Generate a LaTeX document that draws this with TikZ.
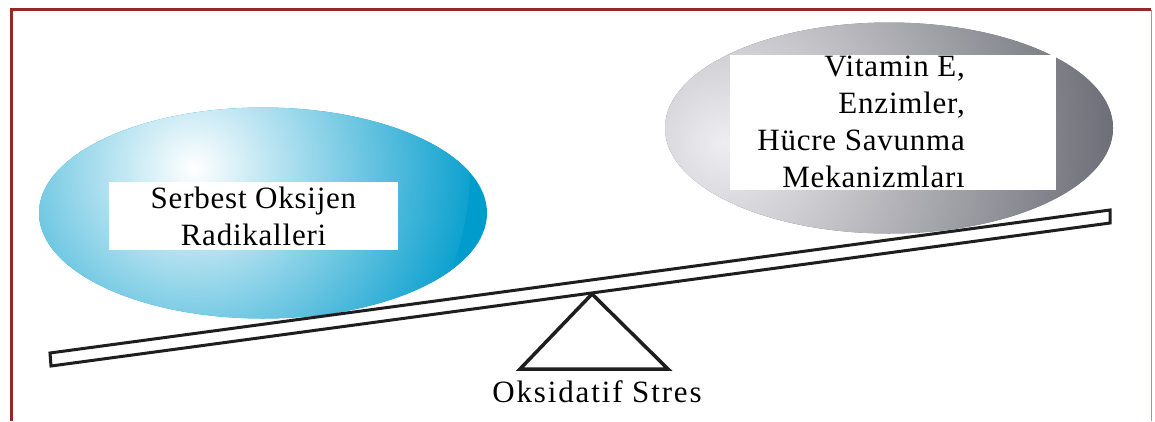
\documentclass[tikz,border=0pt]{standalone}
\usepackage{fontspec}
\setmainfont{Liberation Serif}
\usetikzlibrary{shapes.geometric,calc}
\definecolor{framered}{RGB}{150,40,40}
\definecolor{framepink}{RGB}{215,130,130}
\definecolor{ballblue}{RGB}{0,156,204}
\definecolor{ballgray}{RGB}{100,100,110}
\definecolor{lightgray}{RGB}{238,238,241}
\definecolor{inkdark}{RGB}{30,30,30}
\tikzset{
  ball/.style={ellipse, minimum width=448, minimum height=211, inner sep=0, draw=none},
  whitebox/.style={rectangle, fill=white, draw=none, inner sep=0},
  lbl/.style={font=\fontsize{31}{37}\selectfont\addfontfeatures{LetterSpace=2.5}, text=black, inner sep=0},
  beamline/.style={draw=inkdark, line width=3pt, fill=white, line join=miter},
}
\begin{document}
\begin{tikzpicture}[x=1pt,y=-1pt]
\useasboundingbox (0,0) rectangle (1155,421);
% frame
\draw[framered, line width=3.5pt] (11.5,421) -- (11.5,9.5) -- (1151,9.5);
\draw[framepink, line width=1.5pt] (1151.5,9.5) -- (1151.5,421);
% balls
\node[ball, fill=ballblue, path picture={\shade[inner color=white, outer color=ballblue]
  ($(path picture bounding box.center)+(-78,-45)$) circle (285);}] (L) at (263,213) {};
\node[ball, fill=ballgray, path picture={\shade[inner color=lightgray, outer color=ballgray]
  ($(path picture bounding box.center)+(-165,15)$) circle (420);}] (R) at (889,128) {};
% text boxes
\node[whitebox, minimum width=289, minimum height=68, lbl, align=center] (boxL) at (253.5,216)
  {Serbest Oksijen\\Radikalleri};
\node[whitebox, minimum width=326, minimum height=135] (boxR) at (893,122.5) {};
\node[lbl, align=right, anchor=north east] (txtR) at (965,56)
  {Vitamin E,\\Enzimler,\\Hücre Savunma\\Mekanizmları};
% beam
\coordinate (b1) at (50,353);
\coordinate (b2) at (51,366);
\coordinate (b3) at (1110,223);
\coordinate (b4) at (1110,210);
\draw[beamline] (b1) -- (b2) -- (b3) -- (b4) -- cycle;
% fulcrum
\coordinate (apex) at (592,294);
\coordinate (tl) at (520,369);
\coordinate (tr) at (668,369);
\draw[draw=inkdark, line width=3.5pt, line join=miter] (apex) -- (tl) -- (tr) -- cycle;
\node[lbl, font=\fontsize{31}{37}\selectfont\addfontfeatures{LetterSpace=6}, anchor=base] (stres) at (597,402) {Oksidatif Stres};
\end{tikzpicture}
\end{document}
